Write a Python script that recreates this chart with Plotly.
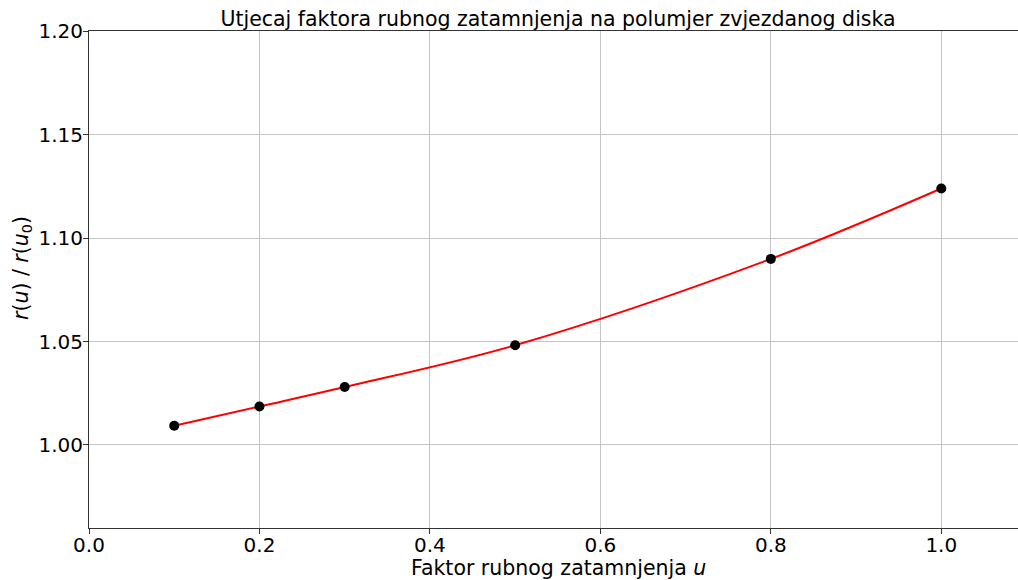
import plotly.graph_objects as go

# limb-darkening factor and the relative stellar-disk radius
u_values = [0.1, 0.2, 0.3, 0.5, 0.8, 1.0]
radius_ratio = [1.0093, 1.0186, 1.0280, 1.0482, 1.0899, 1.1239]

x_ticks = [0.0, 0.2, 0.4, 0.6, 0.8, 1.0]
y_ticks = [1.00, 1.05, 1.10, 1.15, 1.20]

FONT = "DejaVu Sans"
W, H = 1018, 580

fig = go.Figure()

# smooth fitted curve through the measurements
fig.add_trace(go.Scatter(
    x=u_values, y=radius_ratio, mode="lines",
    line=dict(color="red", width=2, shape="spline", smoothing=1.0),
    hoverinfo="skip", showlegend=False,
))

# measured points
fig.add_trace(go.Scatter(
    x=u_values, y=radius_ratio, mode="markers",
    marker=dict(color="black", size=10),
    showlegend=False,
))

axis_common = dict(
    showgrid=True, gridcolor="#c4c4c4", gridwidth=1,
    showline=True, linecolor="#333333", linewidth=1,
    ticks="outside", ticklen=5, tickcolor="#333333",
    tickfont=dict(family=FONT, size=20, color="black"),
    zeroline=False, automargin=False,
)

fig.update_layout(
    width=W, height=H,
    paper_bgcolor="white", plot_bgcolor="white",
    margin=dict(l=89, r=0, t=31, b=52, autoexpand=False),
    title=dict(
        text="Utjecaj faktora rubnog zatamnjenja na polumjer zvjezdanog diska",
        font=dict(family=FONT, size=20.5, color="black"),
        x=558 / W, xanchor="center",
        y=1 - 19 / H, yanchor="middle",
    ),
    xaxis=dict(
        range=[0, 1.09], tickvals=x_ticks, ticktext=[f"{v:.1f}" for v in x_ticks],
        mirror=True, ticklabelstandoff=-6, **axis_common,
    ),
    yaxis=dict(
        range=[0.9599, 1.2], tickvals=y_ticks, ticktext=[f"{v:.2f}" for v in y_ticks],
        mirror=False, ticklabelstandoff=-4, **axis_common,
    ),
    annotations=[
        dict(text="Faktor rubnog zatamnjenja <i>u</i>",
             xref="paper", yref="paper", x=(558 - 89) / (W - 89), y=-(568 - 528) / (528 - 31),
             xanchor="center", yanchor="middle", showarrow=False,
             font=dict(family=FONT, size=20.5, color="black")),
        dict(text="<i>r</i>(<i>u</i>) / <i>r</i>(<i>u</i><sub>0</sub>)",
             xref="paper", yref="paper", x=-(89 - 22) / (W - 89), y=(528 - 268) / (528 - 31),
             xanchor="center", yanchor="middle", textangle=-90, showarrow=False,
             font=dict(family=FONT, size=20.5, color="black")),
    ],
)

fig.write_html("out.html")
